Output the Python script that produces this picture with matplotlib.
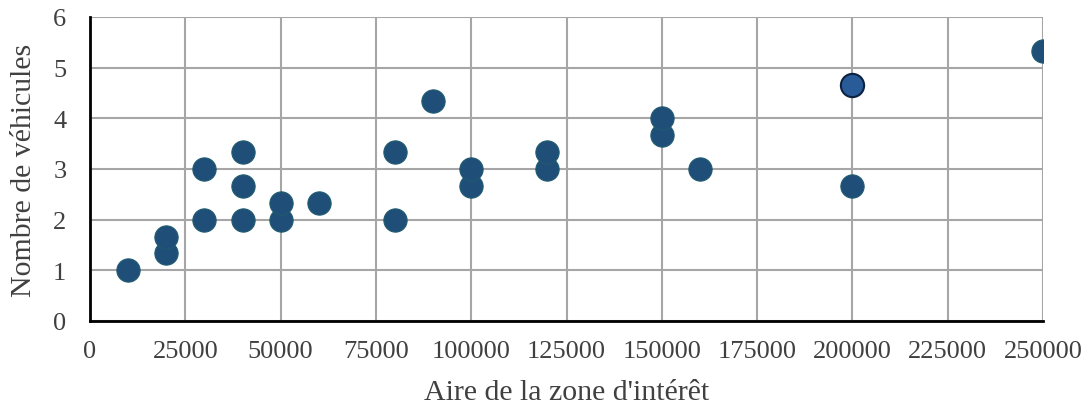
import matplotlib
matplotlib.use("Agg")
import matplotlib.pyplot as plt

plt.rcParams['font.family'] = ['Liberation Serif', 'DejaVu Serif']

aire = [10000, 20000, 20000, 30000, 30000, 40000, 40000, 40000, 50000, 50000,
        60000, 80000, 80000, 90000, 100000, 100000, 120000, 120000, 150000, 150000,
        160000, 200000, 250000]
vehicules = [1, 4/3, 5/3, 2, 3, 2, 8/3, 10/3, 2, 7/3,
             7/3, 2, 10/3, 13/3, 8/3, 3, 3, 10/3, 11/3, 4,
             3, 8/3, 16/3]
hl_x = [200000]
hl_y = [14/3]

fig = plt.figure(figsize=(10.86, 4.06), dpi=100)
ax = fig.add_axes([0.0829, 0.2069, 0.8775, 0.7488])

ax.scatter(aire, vehicules, s=280, color='#1F4E79', edgecolors='#1f5a6e', linewidths=0.8, zorder=3)
ax.scatter(hl_x, hl_y, s=280, color='#2a5b99', edgecolors='#0d2240', linewidths=1.5, zorder=4)

ax.set_xlim(0, 250000)
ax.set_ylim(0, 6)
ax.set_xticks(range(0, 250001, 25000))
ax.set_yticks(range(0, 7))
ax.grid(True, color='#a6a6a6', linewidth=1.5, zorder=0)
ax.set_axisbelow(True)
for s in ['top', 'right']:
    ax.spines[s].set_visible(False)
for s in ['left', 'bottom']:
    ax.spines[s].set_linewidth(2)
    ax.spines[s].set_color('black')
    ax.spines[s].set_zorder(5)
ax.tick_params(length=0, labelsize=19, colors='#404040')
ax.tick_params(axis='x', pad=14)
ax.tick_params(axis='y', pad=17)
ax.set_xlabel("Aire de la zone d'intérêt", fontsize=21.5, color='#404040', labelpad=12)
ax.set_ylabel("Nombre de véhicules", fontsize=21.5, color='#404040', labelpad=12)

fig.savefig('out.png', dpi=100)
